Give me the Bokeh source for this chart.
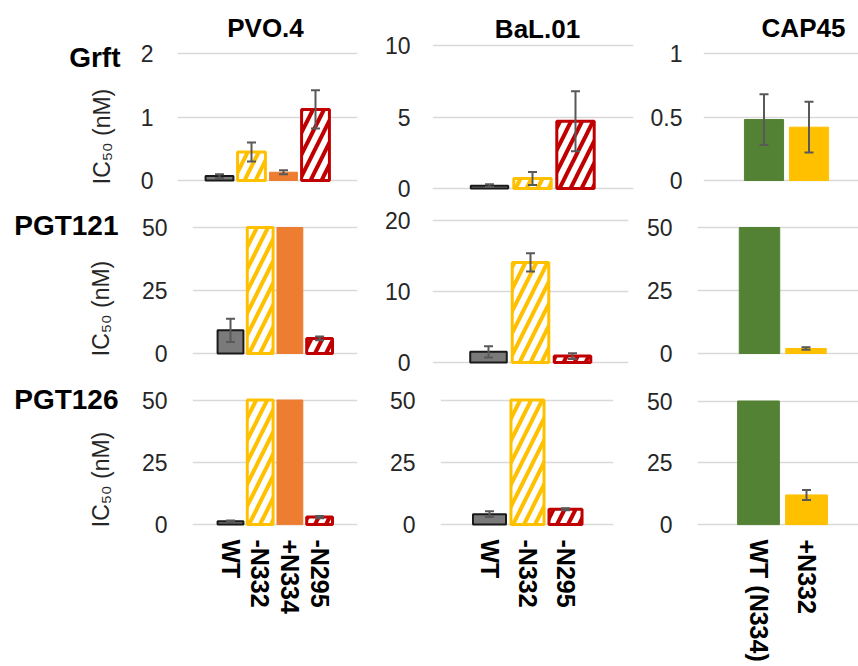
import math
from bokeh.plotting import figure
from bokeh.layouts import row, column
from bokeh.models import (ColumnDataSource, Range1d, FixedTicker, Label, Whisker,
                          TeeHead, NumeralTickFormatter)
from bokeh.embed import file_html
from bokeh.resources import INLINE

# ---------------- data ----------------
antibodies = ["Grft", "PGT121", "PGT126"]
viruses = ["PVO.4", "BaL.01", "CAP45"]
pvo_variants = ["WT", "-N332", "+N334", "-N295"]
bal_variants = ["WT", "-N332", "-N295"]
cap_variants = ["WT (N334)", "+N332"]

grft_pvo = [0.07, 0.45, 0.13, 1.12]
grft_pvo_err = [0.03, 0.15, 0.03, 0.30]
grft_bal = [0.2, 0.7, 4.7]
grft_bal_err = [0.1, 0.45, 2.1]
grft_cap = [0.48, 0.42]
grft_cap_err = [0.20, 0.20]

pgt121_pvo = [9.2, 50, 50, 6.0]
pgt121_pvo_err = [4.6, 0, 0, 0.7]
pgt121_bal = [1.5, 14.1, 0.9]
pgt121_bal_err = [0.8, 1.3, 0.4]
pgt121_cap = [50, 2.0]
pgt121_cap_err = [0, 0.5]

pgt126_pvo = [1.3, 50, 50, 3.0]
pgt126_pvo_err = [0.3, 0, 0, 0.5]
pgt126_bal = [4.2, 50, 6.2]
pgt126_bal_err = [1.2, 0, 0.4]
pgt126_cap = [50, 12.0]
pgt126_cap_err = [0, 2.0]

grft_ticks = [[0, 1, 2], [0, 5, 10], [0, 0.5, 1]]
pgt121_ticks = [[0, 25, 50], [0, 10, 20], [0, 25, 50]]
pgt126_ticks = [[0, 25, 50], [0, 25, 50], [0, 25, 50]]

y_label = "IC\u2085\u2080 (nM)"

# ---------------- styles ----------------
STYLE = {
    "WT": dict(fill="#7a7a7a", line="#1a1a1a", lw=2, hatch=" ", hc="#7a7a7a"),
    "-N332": dict(fill="#ffffff", line="#FFC000", lw=3, hatch="/", hc="#FFC000"),
    "+N334": dict(fill="#ED7D31", line="#ED7D31", lw=1, hatch=" ", hc="#ED7D31"),
    "-N295": dict(fill="#ffffff", line="#C00000", lw=3, hatch="/", hc="#C00000"),
    "WT (N334)": dict(fill="#548235", line="#548235", lw=1, hatch=" ", hc="#548235"),
    "+N332": dict(fill="#FFC000", line="#FFC000", lw=1, hatch=" ", hc="#FFC000"),
}
FONT = "Liberation Sans"
TICK_COLOR = "#262626"

# layout (image pixel coordinates)
COLS = [(0, 130), (130, 372), (372, 638), (638, 858)]
ROWS = [(0, 204), (204, 375), (375, 664)]
FRAME_BOTTOM_ROW3 = 532
# (frame_left, frame_right, zero_px, max_px, first_center_px, spacing_px, standoff)
GEOM = [
    [(177, 357, 180, 53, 219, 32, 24), (432, 633, 188, 45, 489, 43, 22), (703, 858, 180, 53, 763.5, 45, 21)],
    [(192, 357, 353, 227, 230, 29.7, 25), (432, 628, 362, 220, 488, 42, 22), (697, 858, 353, 227, 759, 46.5, 25)],
    [(192, 357, 527, 400, 230, 29.7, 25), (440, 613, 527, 400, 489, 38, 25), (697, 858, 527, 401, 758, 48, 25)],
]
TITLE_POS = [(265, 27), (537, 28), (803, 27)]


def frame_bottom(r):
    return FRAME_BOTTOM_ROW3 if r == 2 else ROWS[r][1]


def panel(r, c, names, vals, errs, ticks, title=None, show_x=False):
    fl, fr, zero, mx, c0, s, standoff = GEOM[r][c]
    x0, x1 = COLS[c + 1]
    y0, y1 = ROWS[r]
    ftop = y0
    fbot = frame_bottom(r)
    ymax = ticks[-1]
    k = ymax / (zero - mx)
    p = figure(width=x1 - x0, height=y1 - y0, output_backend="svg", toolbar_location=None,
               x_range=Range1d((fl - c0) / s, (fr - c0) / s),
               y_range=Range1d(-(fbot - zero) * k, (zero - ftop) * k),
               min_border_left=fl - x0, min_border_right=x1 - fr,
               min_border_top=0, min_border_bottom=y1 - fbot)
    p.outline_line_color = None
    p.background_fill_color = "white"
    p.border_fill_color = "white"
    p.xgrid.visible = False
    p.ygrid.ticker = FixedTicker(ticks=ticks)
    p.ygrid.grid_line_color = "#d9d9d9"
    p.ygrid.grid_line_width = 1.3
    ya = p.yaxis[0]
    ya.ticker = FixedTicker(ticks=ticks)
    ya.formatter = NumeralTickFormatter(format="0.[0]")
    ya.axis_line_color = None
    ya.major_tick_line_color = None
    ya.minor_tick_line_color = None
    ya.major_tick_out = 0
    ya.major_label_standoff = standoff
    ya.major_label_text_font = FONT
    ya.major_label_text_font_size = "23px"
    ya.major_label_text_color = TICK_COLOR
    xa = p.xaxis[0]
    if show_x:
        xa.ticker = FixedTicker(ticks=list(range(len(names))))
        xa.major_label_overrides = {i: n for i, n in enumerate(names)}
        xa.major_label_orientation = "vertical"
        xa.axis_line_color = None
        xa.major_tick_line_color = None
        xa.minor_tick_line_color = None
        xa.major_tick_out = 0
        xa.major_label_standoff = 10
        xa.major_label_text_font = FONT
        xa.major_label_text_font_style = "bold"
        xa.major_label_text_font_size = "25px"
        xa.major_label_text_color = "black"
    else:
        xa.visible = False

    src = ColumnDataSource(dict(
        x=list(range(len(names))), top=vals,
        fill=[STYLE[n]["fill"] for n in names],
        line=[STYLE[n]["line"] for n in names],
        lw=[STYLE[n]["lw"] for n in names],
        hatch=[STYLE[n]["hatch"] for n in names],
        hc=[STYLE[n]["hc"] for n in names],
    ))
    p.vbar(x="x", top="top", bottom=0, width=0.87, source=src,
           fill_color="fill", line_color="line", line_width="lw",
           hatch_pattern="hatch", hatch_color="hc", hatch_scale=22, hatch_weight=4)

    wx, wu, wl = [], [], []
    for i, (v, e) in enumerate(zip(vals, errs)):
        if e > 0:
            wx.append(i)
            wu.append(v + e)
            wl.append(v - e)
    if wx:
        wsrc = ColumnDataSource(dict(x=wx, up=wu, lo=wl))
        w = Whisker(base="x", upper="up", lower="lo", source=wsrc, level="annotation",
                    line_color="#595959", line_width=2,
                    upper_head=TeeHead(size=9, line_color="#595959", line_width=2),
                    lower_head=TeeHead(size=9, line_color="#595959", line_width=2))
        p.add_layout(w)

    if title is not None:
        tx, ty = TITLE_POS[c]
        p.add_layout(Label(x=(tx - c0) / s, y=(zero - ty) * k, text=title,
                           text_align="center", text_baseline="middle",
                           text_font=FONT, text_font_style="bold",
                           text_font_size="26px", text_color="black"))
    return p


def label_fig(r, name, name_pos, ic_pos):
    x0, x1 = COLS[0]
    y0, y1 = ROWS[r]
    fbot = frame_bottom(r)
    w, h = x1 - x0, y1 - y0
    fh = fbot - y0
    p = figure(width=w, height=h, output_backend="svg", toolbar_location=None,
               x_range=Range1d(0, w), y_range=Range1d(fh, 0),
               x_axis_type=None, y_axis_type=None,
               min_border_left=0, min_border_right=0, min_border_top=0,
               min_border_bottom=y1 - fbot)
    p.outline_line_color = None
    p.grid.visible = False
    p.add_layout(Label(x=name_pos[0] - x0, y=name_pos[1] - y0, text=name,
                       text_align="right", text_baseline="middle",
                       text_font=FONT, text_font_style="bold",
                       text_font_size="28px", text_color="black"))
    p.add_layout(Label(x=ic_pos[0] - x0, y=ic_pos[1] - y0, text=y_label, angle=math.pi / 2,
                       text_align="center", text_baseline="middle",
                       text_font=FONT, text_font_size="23px", text_color=TICK_COLOR))
    return p


data = [
    [(pvo_variants, grft_pvo, grft_pvo_err), (bal_variants, grft_bal, grft_bal_err), (cap_variants, grft_cap, grft_cap_err)],
    [(pvo_variants, pgt121_pvo, pgt121_pvo_err), (bal_variants, pgt121_bal, pgt121_bal_err), (cap_variants, pgt121_cap, pgt121_cap_err)],
    [(pvo_variants, pgt126_pvo, pgt126_pvo_err), (bal_variants, pgt126_bal, pgt126_bal_err), (cap_variants, pgt126_cap, pgt126_cap_err)],
]
ticks_all = [grft_ticks, pgt121_ticks, pgt126_ticks]
name_pos = [(120, 57), (118, 225), (118, 399)]
ic_pos = [(101, 136), (100, 308), (100, 481)]

rows = []
for r in range(3):
    figs = [label_fig(r, antibodies[r], name_pos[r], ic_pos[r])]
    for c in range(3):
        names, vals, errs = data[r][c]
        figs.append(panel(r, c, names, vals, errs, ticks_all[r][c],
                          title=viruses[c] if r == 0 else None, show_x=(r == 2)))
    rows.append(row(*figs))

layout = column(*rows)
open("out.html", "w").write(file_html(layout, INLINE))
